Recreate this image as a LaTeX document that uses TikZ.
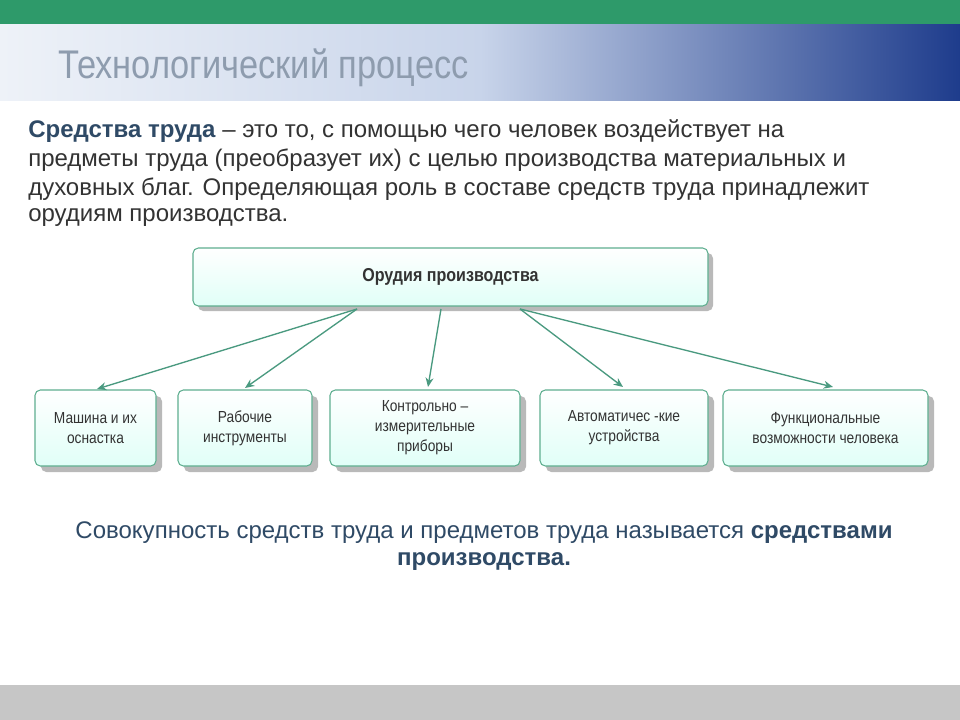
\documentclass[tikz,border=0pt]{standalone}
\usepackage{fontspec}
\setmainfont{Liberation Sans}
\usetikzlibrary{arrows.meta}
\definecolor{hdrgreen}{HTML}{2E9A6A}
\definecolor{txt}{HTML}{333333}
\definecolor{navy}{HTML}{2F4A66}
\definecolor{boxline}{HTML}{5FAF90}
\definecolor{arr}{HTML}{4A9A80}
\definecolor{hl}{HTML}{EEF2F8}
\definecolor{hm}{HTML}{C8D4EA}
\definecolor{hr}{HTML}{1E3C8C}
\definecolor{ttl}{HTML}{8E9CAE}
\tikzset{
  box/.style={draw=boxline, line width=0.8pt, rounded corners=4pt, top color=white, bottom color=green!25!cyan!12,
    align=center, text=txt, font=\fontsize{12}{15}\selectfont, inner sep=2pt},
  shad/.style={fill=gray!55, rounded corners=4pt, draw=none},
  conn/.style={draw=arr, line width=1pt, -{Stealth[length=7pt,width=6pt]}},
  para/.style={anchor=west, text=txt, font=\fontsize{18}{18}\selectfont, inner sep=0pt}
}
\newcommand{\nar}[1]{\scalebox{0.86}[1]{#1}}
\begin{document}
\begin{tikzpicture}[x=0.75pt,y=-0.75pt]
\useasboundingbox (0,0) rectangle (960,720);
\fill[white] (0,0) rectangle (960,720);
% header
\fill[hdrgreen] (0,0) rectangle (960,25);
\shade[left color=hl, right color=hm] (0,25) rectangle (481,101);
\shade[left color=hm, right color=hr] (480,25) rectangle (960,101);
\node[anchor=west, text=ttl, font=\fontsize{30}{30}\selectfont, inner sep=0pt] (title) at (58,68) {\nar{Технологический процесс}};
\fill[gray!45] (0,685) rectangle (960,720);
% paragraph
\node[para] (p1) at (28,131) {\textcolor{navy}{\textbf{Средства труда}} – это то, с помощью чего человек воздействует на};
\node[para] (p2) at (28,160) {предметы труда (преобразует их) с целью производства материальных и};
\node[para] (p3) at (28,189) {духовных благ. Определяющая роль в составе средств труда принадлежит};
\node[para] (p4) at (28,218) {орудиям производства.};
% boxes
\fill[shad] (198,253) rectangle (713,311);
\node[box, minimum width=386.25pt, minimum height=43.5pt, font=\fontsize{14}{15}\selectfont\bfseries] (top) at (450.5,277) {\nar{Орудия производства}};
\foreach \n/\a/\b/\t in {b1/35/156/{Машина и их\\оснастка}, b2/178/312/{Рабочие\\инструменты}, b3/330/520/{Контрольно –\\измерительные\\приборы}, b4/540/708/{Автоматичес -кие\\устройства}, b5/723/928/{Функциональные\\возможности человека}}{
  \fill[shad] (\a+6,396) rectangle (\b+6,472);
  \pgfmathsetmacro{\w}{(\b-\a)*0.75}
  \node[box, minimum width=\w pt, minimum height=57pt] (\n) at ({(\a+\b)/2},428) {\nar{\parbox{\w pt}{\centering\t}}};
}
\coordinate (s1) at (357,309);
\coordinate (s2) at (441,309);
\coordinate (s3) at (520,309);
\coordinate (e1) at (97,389);
\coordinate (e2) at (245,388);
\coordinate (e3) at (428,387);
\coordinate (e4) at (623,387);
\coordinate (e5) at (833,387);
\draw[conn] (s1) -- (e1);
\draw[conn] (s1) -- (e2);
\draw[conn] (s2) -- (e3);
\draw[conn] (s3) -- (e4);
\draw[conn] (s3) -- (e5);
% bottom text
\node[text=navy, font=\fontsize{18}{18}\selectfont, inner sep=0pt] (c1) at (484,533) {Совокупность средств труда и предметов труда называется \textbf{средствами}};
\node[text=navy, font=\fontsize{18}{18}\selectfont\bfseries, inner sep=0pt] (c2) at (484,562) {производства.};
\end{tikzpicture}
\end{document}
